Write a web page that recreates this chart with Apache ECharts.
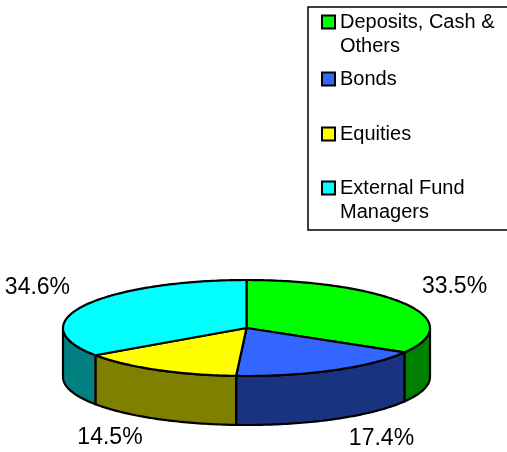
<!DOCTYPE html>
<html>
<head>
<meta charset="utf-8">
<script src="https://cdn.jsdelivr.net/npm/echarts@6/dist/echarts.min.js"></script>
<style>
  html, body { margin: 0; padding: 0; background: #fff; }
  #main { width: 507px; height: 452px; }
</style>
</head>
<body>
<div id="main"></div>
<script>
// asset mix, percent of total
const categories = ['Deposits, Cash &\nOthers', 'Bonds', 'Equities', 'External Fund\nManagers'];
const shares = [33.5, 17.4, 14.5, 34.6];
const topColors = ['#00ff00', '#3366ff', '#ffff00', '#00ffff'];
const sideColors = ['#008000', '#1a3380', '#808000', '#008080'];
// where the first line of each legend entry sits
const legendRows = [22, 79, 134, 188];

// 3d pie geometry
const cx = 246.5, cy = 328, rx = 183.5, ry = 48, depth = 49;
const total = shares.reduce((a, b) => a + b, 0);

function pt(deg, dy) {
    const r = deg * Math.PI / 180;
    return [cx + rx * Math.sin(r), cy - ry * Math.cos(r) + (dy || 0)];
}

function arc(a, b, dy) {
    const pts = [];
    const n = Math.max(2, Math.ceil(Math.abs(b - a)));
    for (let k = 0; k <= n; k++) {
        pts.push(pt(a + (b - a) * k / n, dy));
    }
    return pts;
}

function makeSlice(i) {
    return function (params, api) {
        let before = 0;
        for (let j = 0; j < i; j++) before += shares[j];
        const start = before / total * 360;
        const end = start + api.value(0) / total * 360;
        const children = [];

        // front wall, only the part between 90 and 270 deg is visible
        const a = Math.max(start, 90), b = Math.min(end, 270);
        if (a < b) {
            const pts = arc(a, b, 0).concat(arc(b, a, depth));
            children.push({
                type: 'polygon',
                z2: 1,
                shape: { points: pts },
                style: { fill: sideColors[i], stroke: '#000', lineWidth: 2.2, lineJoin: 'round' }
            });
        }

        // top face
        children.push({
            type: 'polygon',
            z2: 2,
            shape: { points: [[cx, cy]].concat(arc(start, end, 0)) },
            style: { fill: topColors[i], stroke: '#000', lineWidth: 2.2, lineJoin: 'round' }
        });

        // percent label
        const mid = (start + end) / 2;
        const s = Math.sin(mid * Math.PI / 180);
        const c = Math.cos(mid * Math.PI / 180);
        const anchor = pt(mid, c < 0 ? depth : 0);
        children.push({
            type: 'text',
            z2: 3,
            style: {
                text: shares[i].toFixed(1) + '%',
                x: anchor[0] + (s >= 0 ? 16 : -14),
                y: anchor[1] + (c >= 0 ? -18 : 19),
                align: s >= 0 ? 'left' : 'right',
                verticalAlign: 'middle',
                fill: '#000',
                fontSize: 23,
                fontFamily: 'Liberation Sans, Arial, sans-serif'
            }
        });
        return { type: 'group', children: children };
    };
}

const series = categories.map((name, i) => ({
    type: 'custom',
    name: name,
    coordinateSystem: 'none',
    itemStyle: { color: topColors[i] },
    data: [shares[i]],
    renderItem: makeSlice(i),
    animation: false
}));

const legends = categories.map((name, i) => {
    const twoLines = name.indexOf('\n') >= 0;
    return {
        data: [name],
        orient: 'vertical',
        left: 321,
        top: legendRows[i] - (twoLines ? 36 : 12),
        padding: 0,
        icon: 'rect',
        itemWidth: 13,
        itemHeight: 13,
        itemGap: 0,
        itemStyle: { borderColor: '#000', borderWidth: 2 },
        selectedMode: false,
        // blank first line keeps the marker level with the first text line
        formatter: n => (twoLines ? '\n' + n : n),
        textStyle: {
            color: '#000',
            fontSize: 20,
            lineHeight: 24,
            fontFamily: 'Liberation Sans, Arial, sans-serif'
        }
    };
});

const myChart = echarts.init(document.getElementById('main'));

const option = {
    backgroundColor: '#fff',
    animation: false,
    legend: legends,
    graphic: [{
        type: 'rect',
        shape: { x: 308, y: 7, width: 220, height: 223 },
        style: { fill: 'none', stroke: '#000', lineWidth: 1.5 },
        z: -1
    }],
    series: series
};

myChart.setOption(option);
</script>
</body>
</html>
